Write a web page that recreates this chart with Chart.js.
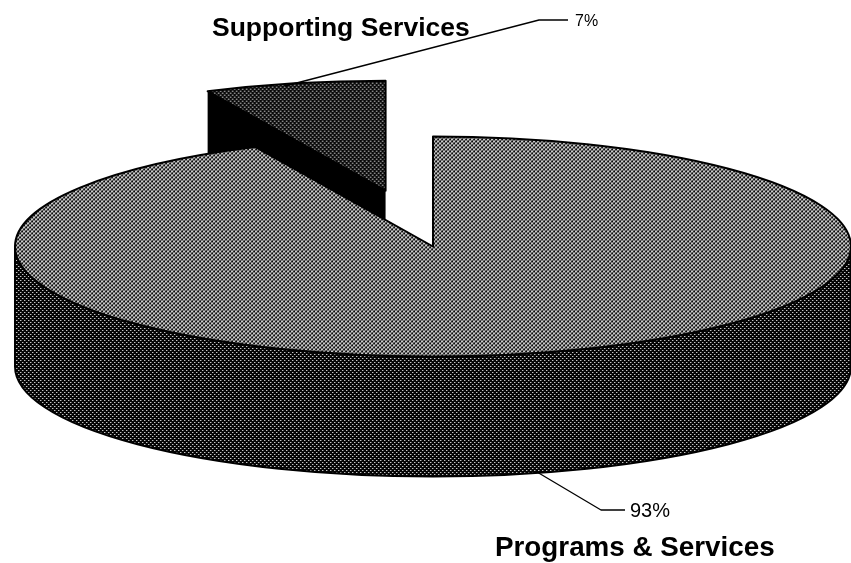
<!DOCTYPE html>
<html><head><meta charset="utf-8">
<style>html,body{margin:0;padding:0;background:#fff;overflow:hidden}#w{position:relative;width:851px;height:563px}</style>
<script src="https://cdn.jsdelivr.net/npm/chart.js@4"></script>
</head><body><div id="w"><canvas id="c" width="851" height="563"></canvas></div>
<script>
const categories = ['Programs & Services', 'Supporting Services'];
const shareValues = [93, 7];
const explodeFractions = [0, 0.52];

const view = {cx: 433, cy: 246.5, rx: 418, ry: 110, depth: 120};
const labelSpots = [
  {name: [495, 556], nameSize: 27.8, pct: [630, 517], pctSize: 20, leader: [[537, 472], [601, 510], [625, 510]]},
  {name: [212, 36], nameSize: 26.5, pct: [575, 26], pctSize: 16, leader: [[285, 86], [539, 20], [568, 20]]}
];

function tile(size, paint) {
  const t = document.createElement('canvas');
  t.width = t.height = size;
  const g = t.getContext('2d');
  paint(g);
  return g.createPattern(t, 'repeat');
}
const topPattern = tile(4, g => {
  g.fillStyle = '#0c0c0c'; g.fillRect(0, 0, 4, 4);
  g.fillStyle = '#f4f4f4'; g.fillRect(0, 0, 2, 1); g.fillRect(0, 1, 1, 1);
  g.fillRect(2, 2, 2, 1); g.fillRect(2, 3, 1, 1);
  g.fillStyle = '#8a8a8a'; g.fillRect(1, 1, 1, 1); g.fillRect(3, 3, 1, 1);
});
const wallPattern = tile(4, g => {
  g.fillStyle = '#050505'; g.fillRect(0, 0, 4, 4);
  g.fillStyle = '#c4c4c4'; g.fillRect(0, 0, 1, 1); g.fillRect(2, 2, 1, 1);
  g.fillStyle = '#555'; g.fillRect(1, 0, 1, 1); g.fillRect(3, 2, 1, 1);
});
const wedgePattern = tile(4, g => {
  g.fillStyle = '#080808'; g.fillRect(0, 0, 4, 4);
  g.fillStyle = '#d0d0d0'; g.fillRect(0, 0, 1, 1); g.fillRect(2, 2, 1, 1);
  g.fillStyle = '#777'; g.fillRect(1, 0, 1, 1); g.fillRect(3, 2, 1, 1);
});

function arcGeom(arc, i) {
  const p = arc.getProps(['x', 'y', 'startAngle', 'endAngle', 'outerRadius'], true);
  const R = p.outerRadius;
  const mid = (p.startAngle + p.endAngle) / 2;
  const ex = explodeFractions[i];
  return {
    p, R,
    sx: view.rx / R, sy: view.ry / R,
    ox: view.cx + Math.cos(mid) * ex * view.rx,
    oy: view.cy + Math.sin(mid) * ex * view.ry
  };
}
function outline(ctx, g, dy) {
  const {p, ox, oy} = g;
  ctx.moveTo(ox, oy + dy);
  ctx.ellipse(ox, oy + dy, view.rx, view.ry, 0, p.startAngle, p.endAngle);
  ctx.closePath();
}

const pie3d = {
  id: 'pie3d',
  beforeDatasetDraw(chart, args) {
    const ctx = chart.ctx, arcs = args.meta.data;
    ctx.lineJoin = 'round';
    [1, 0].forEach(i => {
      const g = arcGeom(arcs[i], i), {p, ox, oy} = g;
      const edge = a => [ox + Math.cos(a) * view.rx, oy + Math.sin(a) * view.ry];
      if (i === 1) {
        const c = edge(p.startAngle);
        ctx.beginPath();
        ctx.moveTo(c[0], c[1]);
        ctx.lineTo(ox, oy);
        ctx.lineTo(ox, oy + view.depth);
        ctx.lineTo(c[0], c[1] + view.depth);
        ctx.closePath();
        ctx.fillStyle = '#000';
        ctx.fill();
      } else {
        ctx.beginPath();
        ctx.ellipse(ox, oy, view.rx, view.ry, 0, Math.PI, 0, true);
        ctx.lineTo(ox + view.rx, oy + view.depth);
        ctx.ellipse(ox, oy + view.depth, view.rx, view.ry, 0, 0, Math.PI, false);
        ctx.closePath();
        ctx.fillStyle = wallPattern;
        ctx.fill();
        ctx.lineWidth = 2;
        ctx.strokeStyle = '#000';
        ctx.stroke();
      }
      ctx.save();
      const m = new DOMMatrix().scale(1 / g.sx, 1 / g.sy);
      arcs[i].options.backgroundColor.setTransform(m);
      ctx.translate(ox, oy);
      ctx.scale(g.sx, g.sy);
      ctx.translate(-p.x, -p.y);
      arcs[i].draw(ctx);
      ctx.restore();
      ctx.beginPath();
      outline(ctx, g, 0);
      ctx.lineWidth = 2;
      ctx.strokeStyle = '#000';
      ctx.stroke();
    });
    return false;
  },
  afterDraw(chart) {
    const ctx = chart.ctx;
    ctx.save();
    ctx.fillStyle = '#000';
    ctx.strokeStyle = '#000';
    ctx.textBaseline = 'alphabetic';
    categories.forEach((name, i) => {
      const s = labelSpots[i];
      ctx.lineWidth = 1.3;
      ctx.beginPath();
      s.leader.forEach((pt, k) => k ? ctx.lineTo(pt[0], pt[1]) : ctx.moveTo(pt[0], pt[1]));
      ctx.stroke();
      ctx.font = 'bold ' + s.nameSize + 'px "Liberation Sans", Arial, sans-serif';
      ctx.fillText(name, s.name[0], s.name[1]);
      ctx.font = s.pctSize + 'px "Liberation Sans", Arial, sans-serif';
      ctx.fillText(shareValues[i] + '%', s.pct[0], s.pct[1]);
    });
    ctx.restore();
  }
};

new Chart(document.getElementById('c'), {
  type: 'pie',
  data: {
    labels: categories,
    datasets: [{
      data: shareValues,
      backgroundColor: [topPattern, wedgePattern],
      borderWidth: 0
    }]
  },
  options: {
    responsive: false,
    animation: false,
    layout: {padding: 0},
    plugins: {legend: {display: false}, tooltip: {enabled: false}, title: {display: false}}
  },
  plugins: [pie3d]
});
</script></body></html>
